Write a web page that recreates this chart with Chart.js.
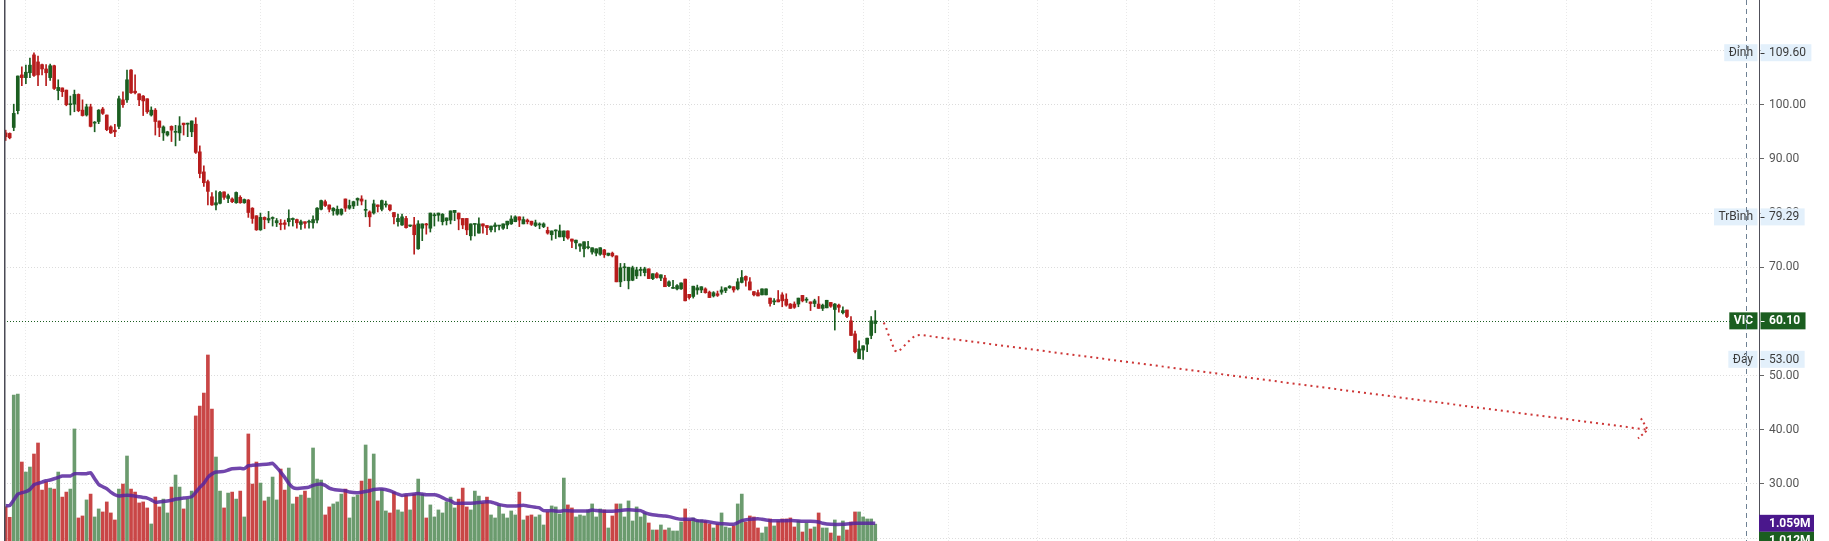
<!DOCTYPE html>
<html lang="vi">
<head>
<meta charset="utf-8">
<title>VIC</title>
<script src="https://cdn.jsdelivr.net/npm/chart.js@4.4.1/dist/chart.umd.min.js"></script>
<style>
    html, body { margin: 0; padding: 0; background: #fff; }
    #wrap { width: 1829px; height: 541px; }
</style>
</head>
<body>
<div id="wrap"><canvas id="chart" width="1829" height="541"></canvas></div>
<script>
// phiên giao dịch: [mở, cao, thấp, đóng]
const candles = [
    [94.8,95.3,93.4,94.1],[94.7,94.8,93.7,93.9],[95.8,100.1,95.2,98.4],[98.9,105.3,98.3,105.3],[105.5,107.0,103.5,105.0],
    [105.0,107.3,103.9,106.0],[105.9,108.6,105.0,107.3],[109.2,109.6,105.2,105.4],[107.9,109.0,103.5,105.5],[107.4,107.5,105.5,106.6],
    [106.6,107.4,103.5,105.9],[105.0,107.5,104.5,107.2],[107.2,107.3,102.8,103.0],[102.6,104.6,100.9,103.2],[103.1,103.1,101.5,102.4],
    [102.7,102.7,99.8,100.0],[100.0,101.6,98.1,100.1],[100.1,102.7,98.7,101.9],[101.9,102.0,98.7,98.9],[99.0,100.9,97.9,98.0],
    [98.1,100.1,97.9,99.6],[99.6,100.1,95.9,96.0],[96.6,96.9,95.0,96.7],[96.9,99.1,96.5,99.0],[99.2,99.5,98.2,98.4],
    [98.1,98.1,95.2,95.4],[95.9,96.1,94.7,94.8],[95.3,96.4,94.1,95.0],[96.0,101.6,95.6,101.1],[100.9,102.4,99.5,100.0],
    [100.9,106.4,100.4,104.6],[106.4,106.5,102.1,102.2],[102.5,105.5,102.0,102.2],[102.0,102.0,99.8,100.9],[101.6,101.7,98.0,100.7],
    [101.1,101.1,98.4,98.7],[98.1,99.6,97.9,99.0],[99.0,99.3,94.4,96.9],[97.0,97.0,94.1,95.8],[94.8,96.1,93.4,95.9],
    [94.4,95.1,94.2,95.0],[96.0,96.1,93.2,95.3],[94.9,96.2,92.4,95.0],[94.8,97.8,93.4,96.1],[96.6,96.6,94.4,96.3],
    [96.4,96.6,94.1,96.6],[95.0,97.0,94.1,97.0],[96.4,97.6,91.0,91.2],[91.3,92.4,86.5,87.3],[87.6,88.7,84.9,85.6],
    [85.8,86.1,81.5,84.0],[83.0,83.8,81.4,81.5],[81.5,84.1,80.6,81.9],[81.8,84.0,81.7,83.8],[83.9,83.9,82.5,82.9],
    [82.7,83.5,81.9,83.2],[82.6,82.8,81.9,82.1],[81.9,83.9,81.8,83.8],[82.9,83.2,81.8,81.9],[81.9,82.6,81.8,82.5],
    [82.4,82.5,79.2,80.1],[80.9,81.0,78.1,79.0],[79.5,79.5,76.8,76.9],[76.9,80.0,76.8,79.2],[79.2,79.3,77.1,78.8],
    [78.7,80.3,78.2,79.0],[79.0,79.3,77.6,79.1],[78.2,79.0,77.5,78.6],[78.1,78.8,76.9,77.9],[78.2,78.7,77.0,77.9],
    [78.4,80.6,77.6,79.0],[78.8,79.1,77.6,79.0],[78.8,78.9,77.2,78.2],[77.9,78.7,77.0,78.4],[78.4,78.4,77.2,78.1],
    [78.3,78.7,77.2,78.4],[78.2,79.5,77.2,78.8],[78.7,81.0,78.2,80.9],[80.7,82.4,80.6,82.3],[82.1,82.4,81.2,81.4],
    [81.5,81.5,80.2,80.7],[80.4,81.0,79.6,80.9],[79.8,81.3,79.6,80.7],[79.8,80.8,79.6,80.7],[82.6,82.6,80.3,80.9],
    [80.9,82.4,80.7,81.4],[81.3,82.2,80.8,82.1],[82.4,82.8,81.4,82.7],[82.6,83.2,81.5,82.2],[80.5,82.4,79.3,80.6],
    [80.2,80.4,77.5,79.3],[80.0,82.4,79.8,81.7],[81.5,81.5,80.2,81.2],[80.7,82.4,80.4,82.3],[81.5,82.2,81.1,81.6],
    [81.5,81.5,80.4,80.6],[80.1,80.1,78.0,79.3],[78.4,79.8,77.6,79.0],[77.8,79.8,77.7,79.3],[79.0,79.4,77.2,77.3],
    [77.6,77.8,77.5,77.8],[77.8,79.2,72.4,76.0],[73.4,78.6,73.3,78.0],[77.2,78.0,74.9,78.0],[78.0,78.1,76.1,77.8],
    [77.2,80.0,76.5,80.0],[79.5,80.0,77.6,79.6],[79.6,80.0,78.5,80.0],[78.4,79.9,77.8,79.8],[78.6,79.1,77.8,79.1],
    [78.7,80.4,78.0,80.4],[80.1,80.5,78.6,80.5],[80.0,80.0,76.9,78.9],[79.0,79.0,77.1,77.8],[79.0,79.0,76.0,76.9],
    [75.8,78.0,75.0,78.0],[77.9,78.0,75.8,78.0],[76.3,79.1,76.3,78.0],[78.0,78.0,76.3,77.6],[77.7,77.7,76.0,77.3],
    [76.9,77.6,76.5,77.6],[77.5,78.2,76.5,77.8],[77.6,77.7,76.9,77.7],[77.2,78.0,77.0,78.0],[77.8,78.5,77.1,78.5],
    [78.0,79.5,77.9,78.9],[78.4,79.5,78.4,79.3],[79.3,79.3,77.5,78.7],[78.0,79.3,78.0,78.8],[78.7,78.9,78.0,78.4],
    [78.5,78.5,77.7,77.9],[77.7,78.7,77.5,78.2],[77.8,78.2,77.1,78.0],[77.5,78.2,77.3,78.0],[76.8,77.4,76.1,76.3],
    [76.0,76.7,75.0,76.7],[76.7,76.9,75.3,76.8],[75.6,77.8,75.6,76.7],[75.6,76.7,74.9,76.7],[76.7,76.7,75.2,75.4],
    [75.2,75.2,73.6,74.8],[74.5,75.0,73.4,75.0],[73.9,74.3,72.9,74.3],[73.4,74.7,71.9,74.7],[73.6,74.8,73.4,73.7],
    [72.8,73.6,72.4,73.6],[72.6,73.4,72.1,73.4],[72.4,73.6,72.2,73.6],[73.2,73.3,71.8,72.3],[72.2,72.6,72.1,72.6],
    [72.6,72.8,71.9,72.1],[72.1,72.1,67.3,67.3],[67.3,70.7,66.4,69.9],[69.9,70.7,67.5,70.0],[67.5,70.0,66.0,70.0],
    [67.6,70.2,67.5,69.9],[68.4,70.0,67.9,69.5],[69.4,70.0,68.4,69.6],[69.0,70.0,68.4,69.7],[69.7,69.7,67.9,67.9],
    [67.9,68.8,67.7,68.8],[68.8,69.0,68.0,68.1],[68.0,68.6,67.5,68.6],[68.0,68.5,66.4,66.4],[66.6,67.5,66.4,67.3],
    [66.1,67.6,66.1,66.2],[66.0,66.8,65.8,66.6],[66.0,67.1,65.9,67.1],[67.8,67.8,63.8,63.8],[65.0,65.0,64.1,64.4],
    [64.6,66.5,64.3,66.5],[65.8,66.7,65.0,66.2],[65.8,66.4,65.3,66.4],[66.0,66.2,65.2,65.3],[65.4,65.6,64.4,64.4],
    [64.7,65.5,64.5,65.3],[65.1,65.6,64.6,64.8],[65.4,66.4,65.0,65.8],[65.7,66.2,65.3,66.2],[66.2,66.6,66.1,66.5],
    [66.4,66.4,65.4,65.8],[66.0,67.9,65.8,67.3],[67.2,69.4,67.1,68.1],[68.3,68.4,66.5,67.6],[67.3,68.1,65.8,65.8],
    [65.5,65.5,64.7,64.9],[65.3,65.8,64.7,64.7],[64.9,66.0,64.9,66.0],[64.9,66.0,64.9,66.0],[64.3,64.3,62.8,63.3],
    [63.6,64.2,63.1,63.8],[64.0,65.7,63.6,63.6],[64.9,65.3,62.7,63.8],[64.1,65.1,62.8,63.0],[63.2,63.3,62.4,62.4],
    [63.2,63.6,62.4,62.6],[63.2,64.3,62.7,64.3],[64.8,64.8,63.6,63.8],[63.9,64.4,63.5,64.1],[63.6,63.6,62.0,63.3],
    [63.3,64.1,62.7,63.8],[63.2,64.6,62.4,62.4],[62.4,63.2,62.0,63.0],[62.5,63.9,62.5,63.9],[63.5,63.5,62.6,62.8],
    [62.2,63.3,58.4,63.2],[63.0,63.2,61.7,62.6],[61.6,62.7,61.4,62.0],[62.1,62.1,60.7,60.9],[60.1,60.9,57.4,57.4],
    [57.7,58.2,54.2,54.4],[53.1,56.4,53.1,54.9],[54.7,55.5,53.0,55.5],[55.8,56.9,54.4,56.9],[57.4,60.9,56.8,60.1],
    [59.6,62.0,57.9,60.1]
];

// khối lượng (triệu cp)
const volumes = [
    2.05,1.42,8.74,8.80,4.73,4.13,4.43,5.21,5.87,3.05,
    3.55,3.17,3.11,4.13,2.63,2.93,3.11,6.71,1.38,1.50,
    2.46,2.81,1.44,1.92,1.74,2.34,1.68,1.26,3.11,3.41,
    5.09,3.11,2.93,2.28,2.34,1.98,1.02,2.63,2.04,2.51,
    1.68,3.23,3.95,3.23,1.92,2.51,2.99,7.49,8.08,8.86,
    11.14,7.90,5.03,2.99,1.98,2.87,2.93,2.51,2.99,1.44,
    6.41,3.41,4.73,3.47,2.40,2.63,3.83,2.46,4.31,3.05,
    4.37,2.22,2.63,2.75,2.99,2.57,5.57,3.71,3.65,1.56,
    2.04,2.22,2.34,2.81,3.11,1.38,2.63,2.75,3.59,5.75,
    3.71,5.21,2.40,3.11,1.80,1.68,2.93,1.86,1.74,2.75,
    1.86,2.81,3.71,2.81,1.38,2.16,1.44,1.86,1.68,2.34,
    2.63,1.98,2.51,3.17,2.04,1.86,2.99,2.69,2.28,2.63,
    1.56,1.38,2.16,1.62,1.38,1.80,1.56,2.93,1.26,1.50,
    1.56,1.44,1.56,0.96,1.74,2.10,2.04,1.62,3.77,2.16,
    1.98,1.44,1.56,1.50,1.86,2.22,1.44,1.92,1.86,0.78,
    1.50,2.22,2.22,1.44,2.40,1.20,2.04,1.44,1.68,1.08,
    0.66,0.66,0.96,0.66,0.78,0.60,0.60,1.14,1.92,1.26,
    1.38,1.26,1.26,1.20,1.02,0.78,1.02,1.68,0.84,0.78,
    0.90,2.22,2.81,1.14,1.50,1.44,0.78,0.48,0.84,1.32,
    0.90,1.20,1.32,1.32,1.38,0.84,1.20,0.54,1.08,0.72,
    0.84,1.68,0.78,0.78,0.48,1.26,0.30,1.20,0.66,1.14,
    1.74,1.74,1.44,1.32,1.32,1.01
];

// đường trung bình khối lượng: [phiên, triệu cp]
const volumeMa = [
    [0,2.12],[1,2.12],[2,2.46],[3,2.81],[4,2.89],[5,2.95],[6,3.09],[7,3.37],[8,3.45],[9,3.53],
    [10,3.61],[11,3.65],[12,3.73],[13,3.81],[14,3.89],[16,3.89],[17,4.03],[20,4.03],[21,4.09],[22,3.73],
    [23,3.39],[24,3.25],[25,3.13],[26,2.93],[27,2.77],[28,2.69],[29,2.73],[31,2.73],[33,2.65],[34,2.61],
    [35,2.57],[36,2.46],[37,2.32],[39,2.36],[41,2.44],[42,2.51],[44,2.57],[46,2.65],[47,2.91],[48,3.21],
    [49,3.45],[50,3.81],[51,4.01],[52,4.13],[54,4.17],[55,4.25],[56,4.33],[58,4.35],[59,4.33],[60,4.51],
    [61,4.53],[63,4.57],[65,4.61],[66,4.65],[67,4.41],[68,4.13],[69,3.81],[70,3.45],[71,3.21],[72,3.15],
    [74,3.19],[75,3.23],[76,3.33],[77,3.39],[78,3.41],[79,3.33],[80,3.17],[81,3.09],[82,3.05],[84,3.01],
    [85,2.93],[87,2.89],[89,2.97],[90,3.01],[91,3.09],[93,3.11],[95,3.01],[96,2.91],[97,2.81],[98,2.73],
    [99,2.77],[101,2.81],[102,2.85],[103,2.81],[104,2.77],[106,2.77],[107,2.71],[108,2.60],[109,2.47],[110,2.42],
    [111,2.26],[113,2.26],[116,2.28],[118,2.34],[120,2.34],[122,2.18],[124,2.10],[126,2.10],[128,2.14],[129,2.10],
    [131,2.02],[132,1.98],[133,1.82],[135,1.82],[137,1.78],[138,1.82],[140,1.80],[144,1.80],[145,1.86],[146,1.82],
    [148,1.78],[150,1.78],[152,1.82],[153,1.86],[155,1.86],[157,1.82],[158,1.70],[159,1.62],[161,1.54],[163,1.50],
    [164,1.46],[166,1.34],[167,1.30],[170,1.30],[171,1.22],[173,1.18],[174,1.14],[176,1.06],[177,1.04],[180,1.00],
    [181,1.10],[182,1.22],[184,1.30],[186,1.34],[187,1.30],[189,1.22],[195,1.22],[197,1.18],[199,1.18],[201,1.14],
    [202,1.06],[204,1.00],[207,1.00],[209,1.04],[210,1.06],[215,1.06]
];

// đường dự báo (chấm đỏ) và mũi tên: [phiên, giá]
const forecast = [
    [217.1,59.8],[217.7,58.8],[218.2,57.7],[218.8,56.7],[219.3,55.6],[219.9,54.6],[220.6,54.35],
    [221.7,55.1],[222.8,56.0],[223.8,56.7],[224.9,57.4],[226.2,57.5],[406.0,40.0]
];
const arrowHead = [[404.3,42.1],[406.0,40.0],[403.6,38.4]];

// vạch lưới dọc theo đầu tháng (chỉ số phiên)
const monthTicks = [5, 28, 63, 86, 106, 126, 148, 169, 192, 212, 233, 255, 277, 299, 320, 343, 364, 386, 407];
const todayLine = 430.4;

const tagNames = ['Đỉnh', 'TrBình', 'VIC', 'Đáy'];
const tagValues = [109.60, 79.29, 60.10, 53.00];
const volumeTagNames = ['1.059M', '1.012M'];
const volumeTagValues = [1.059, 1.012];

const UP = '#1b5e20';
const DOWN = '#b71c1c';
const VOL_UP = '#6b9b6e';
const VOL_DOWN = '#c94646';

const isUp = c => c[3] >= c[0];

const overlay = {
    id: 'overlay',
    beforeDatasetsDraw(chart) {
        const { ctx, chartArea: a, scales: { y } } = chart;
        const py = Math.round(y.getPixelForValue(tagValues[2])) + 0.5;
        ctx.save();
        ctx.strokeStyle = UP;
        ctx.lineWidth = 1;
        ctx.setLineDash([1, 2]);
        ctx.beginPath();
        ctx.moveTo(a.left, py);
        ctx.lineTo(a.right, py);
        ctx.stroke();
        ctx.restore();
    },
    afterDraw(chart) {
        const { ctx, chartArea: a, scales: { x, y, yv } } = chart;
        ctx.save();

        // left edge
        ctx.strokeStyle = '#4a4a55';
        ctx.lineWidth = 1.5;
        ctx.beginPath();
        ctx.moveTo(a.left + 0.75, a.top);
        ctx.lineTo(a.left + 0.75, a.bottom);
        ctx.stroke();

        const h = 17;
        ctx.textBaseline = 'middle';
        ctx.textAlign = 'left';

        tagNames.forEach((name, k) => {
            const cy = y.getPixelForValue(tagValues[k]);
            const main = name === 'VIC';
            const bg = main ? UP : '#e3f0fb';
            const fg = main ? '#ffffff' : '#3a3a3a';
            ctx.font = (main ? 'bold ' : '') + '12px Roboto';
            const label = tagValues[k].toFixed(2);
            const nw = ctx.measureText(name).width;
            const vw = ctx.measureText(label).width;
            ctx.fillStyle = bg;
            ctx.fillRect(a.right - 1.5 - (nw + 9), cy - h / 2, nw + 9, h);
            ctx.fillRect(a.right + 1.5, cy - h / 2, vw + 14, h);
            ctx.fillStyle = fg;
            ctx.fillText(name, a.right - 1.5 - nw - 4.5, cy + 0.5);
            ctx.fillText(label, a.right + 10, cy + 0.5);
            ctx.fillRect(a.right + 1.5, Math.round(cy), 4, 1);
        });

        // volume tags
        ctx.font = 'bold 12px Roboto';
        let prev = -100;
        volumeTagNames.forEach((name, k) => {
            let cy = yv.getPixelForValue(volumeTagValues[k]);
            if (cy < prev + h) cy = prev + h;
            prev = cy;
            ctx.fillStyle = k === 0 ? '#4a178c' : UP;
            ctx.fillRect(a.right, cy - h / 2, 55, h);
            ctx.fillStyle = '#ffffff';
            ctx.fillText(name, a.right + 10, cy + 0.5);
        });

        // dashed vertical line
        const tx = Math.round(x.getPixelForValue(todayLine)) + 0.5;
        ctx.strokeStyle = '#6e8194';
        ctx.lineWidth = 1;
        ctx.setLineDash([5, 4]);
        ctx.beginPath();
        ctx.moveTo(tx, a.top);
        ctx.lineTo(tx, a.bottom);
        ctx.stroke();

        ctx.restore();
    }
};

Chart.defaults.font.family = 'Roboto';

new Chart(document.getElementById('chart'), {
    type: 'bar',
    data: {
        datasets: [
            {
                label: 'Râu nến',
                data: candles.map((c, i) => ({ x: i, y: [c[2], c[1]] })),
                backgroundColor: candles.map(c => isUp(c) ? UP : DOWN),
                barThickness: 1,
                grouped: false,
                yAxisID: 'y',
                order: 3
            },
            {
                label: 'Thân nến',
                data: candles.map((c, i) => ({ x: i, y: [c[0], c[3]] })),
                backgroundColor: candles.map(c => isUp(c) ? UP : DOWN),
                barThickness: 3,
                minBarLength: 1,
                grouped: false,
                yAxisID: 'y',
                order: 2
            },
            {
                label: 'Khối lượng',
                data: volumes.map((v, i) => ({ x: i, y: v })),
                backgroundColor: candles.map(c => isUp(c) ? VOL_UP : VOL_DOWN),
                barThickness: 3,
                grouped: false,
                yAxisID: 'yv',
                order: 6
            },
            {
                type: 'line',
                label: 'MA KL',
                data: volumeMa.map(p => ({ x: p[0], y: p[1] })),
                borderColor: 'rgba(88, 38, 158, 0.85)',
                borderWidth: 3.5,
                borderJoinStyle: 'round',
                pointRadius: 0,
                tension: 0.15,
                yAxisID: 'yv',
                order: 5
            },
            {
                type: 'line',
                label: 'Dự báo',
                data: forecast.map(p => ({ x: p[0], y: p[1] })),
                borderColor: 'rgba(200, 32, 32, 0.9)',
                borderWidth: 2,
                borderDash: [2, 4],
                pointRadius: 0,
                yAxisID: 'y',
                order: 1
            },
            {
                type: 'line',
                label: 'Mũi tên',
                data: arrowHead.map(p => ({ x: p[0], y: p[1] })),
                borderColor: 'rgba(200, 32, 32, 0.9)',
                borderWidth: 2,
                borderDash: [2, 3],
                pointRadius: 0,
                yAxisID: 'y',
                order: 1
            }
        ]
    },
    options: {
        responsive: false,
        animation: false,
        events: [],
        layout: { padding: { left: 4, right: 0, top: 0, bottom: 0 } },
        plugins: {
            legend: { display: false },
            tooltip: { enabled: false }
        },
        scales: {
            x: {
                type: 'linear',
                min: -0.41,
                max: 433.5,
                offset: false,
                afterBuildTicks: s => { s.ticks = monthTicks.map(v => ({ value: v })); },
                afterFit: s => { s.height = 0; s.paddingLeft = 0; s.paddingRight = 0; },
                ticks: { display: false },
                grid: { color: '#e9e9e9', drawTicks: false, offset: false },
                border: { display: false, dash: [1, 2] }
            },
            y: {
                position: 'right',
                min: 19.46,
                max: 119.33,
                afterFit: s => { s.width = 70; s.paddingTop = 0; s.paddingBottom = 0; },
                ticks: {
                    stepSize: 10,
                    includeBounds: false,
                    padding: 5,
                    color: '#555555',
                    font: { size: 12 },
                    callback: v => v === 20 ? '' : v.toFixed(2)
                },
                grid: { color: '#dcdcdc', tickColor: '#666666', tickLength: 5 },
                border: { display: true, color: '#50505a', width: 1, dash: [1, 2] }
            },
            yv: {
                display: false,
                min: 0,
                max: 32.4
            }
        }
    },
    plugins: [overlay]
});
</script>
</body>
</html>
